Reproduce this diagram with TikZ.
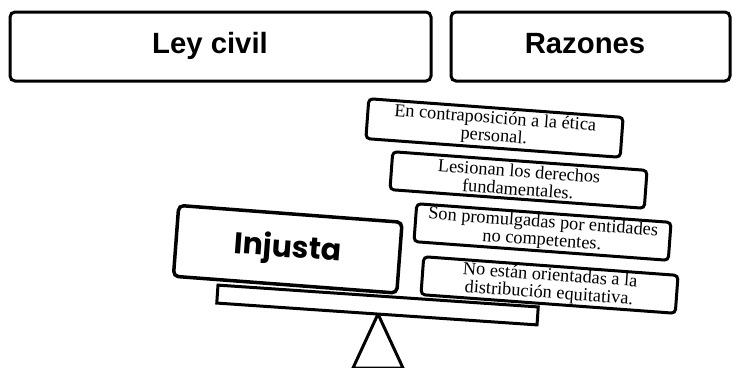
\documentclass[tikz,border=0pt]{standalone}
\usepackage{fontspec}
\newfontfamily\sansb{Liberation Sans}
\newfontfamily\popf{Poppins}
\newfontfamily\serf{Liberation Serif}
\begin{document}
\begin{tikzpicture}[x=1pt,y=-1pt,
  topbox/.style={draw, line width=3pt, rounded corners=5pt, inner sep=0pt, fill=white},
  toptext/.style={anchor=base, inner sep=0pt, font=\sansb\bfseries\fontsize{29.3}{32}\selectfont},
  reason/.style={draw, line width=3pt, rounded corners=4pt, inner sep=0pt, fill=white,
    minimum width=255pt, minimum height=38pt, rotate=-4.2, align=center,
    font=\serf\fontsize{18.3}{18}\selectfont},
  bigbox/.style={draw, line width=3.5pt, rounded corners=5pt, inner sep=0pt, fill=white,
    minimum width=224pt, minimum height=71pt, rotate=-4.3,
    font=\popf\bfseries\fontsize{30}{32}\selectfont},
  plankbox/.style={draw, line width=3pt, inner sep=0pt, fill=white,
    minimum width=321pt, minimum height=18pt, rotate=-3.9},
  pivot/.style={draw, line width=3pt, line join=miter}]
\useasboundingbox (0,0) rectangle (733,367);
% top header boxes
\node[topbox, minimum width=421pt, minimum height=69pt] (ley) at (220.5,46.5) {};
\node[toptext] (leyt) at (210,53) {Ley civil};
\node[topbox, minimum width=279pt, minimum height=69pt] (raz) at (590.5,46.5) {};
\node[toptext] (razt) at (585,53) {Razones};
% balance
\coordinate (tl) at (353,368);
\coordinate (tr) at (403,368);
\coordinate (apex) at (378,314);
\draw[pivot] (tl) -- (apex) -- (tr) -- cycle;
\node[plankbox] (plank) at (377.5,305) {};
\node[bigbox] (inj) at (287.75,249.25) {Injusta};
% reasons
\node[reason, minimum height=40pt] (r1) at (494.5,128) {En contraposición a la ética\\personal.};
\node[reason] (r2) at (518.5,180) {Lesionan los derechos\\fundamentales.};
\node[reason] (r3) at (542.5,232) {Son promulgadas por entidades\\no competentes.};
\node[reason] (r4) at (549.5,285) {No están orientadas a la\\distribución equitativa.};
\end{tikzpicture}
\end{document}
